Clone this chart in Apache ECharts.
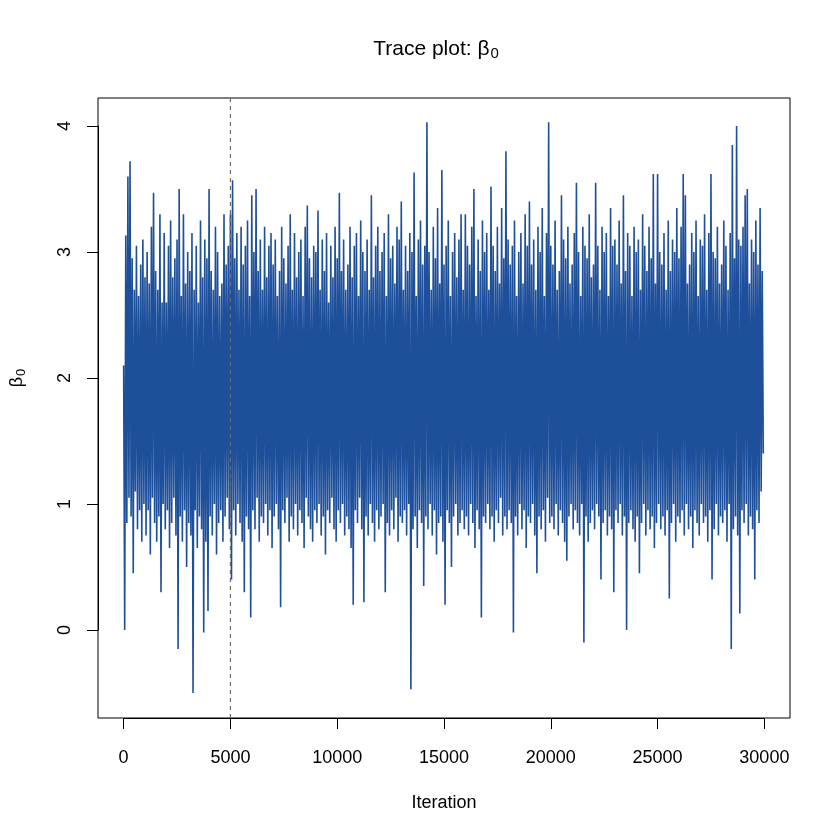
<!DOCTYPE html>
<html>
    <head>
        <meta charset="UTF-8" />
        <script src="https://cdn.jsdelivr.net/npm/echarts@6/dist/echarts.min.js"></script>
        <style>
            html, body { margin: 0; padding: 0; background: #fff; }
        </style>
    </head>
    <body>
        <div id="container" style="width: 840px; height: 840px;"></div>
        <script>
            // trace, one block per 100 iterations:
            // highest and lowest value reached inside each block
            var blockSize = 100;
            var traceHigh = [
                2.10, 3.13, 3.60, 3.72, 2.95, 2.70, 3.05, 2.65, 2.90, 3.10,
                2.80, 3.00, 2.75, 3.20, 3.47, 2.85, 2.70, 3.30, 2.60, 3.15,
                2.60, 3.05, 3.25, 2.80, 2.95, 3.10, 3.50, 2.65, 3.30, 2.75,
                3.00, 2.85, 3.15, 2.70, 3.05, 2.60, 3.25, 2.80, 3.10, 2.95,
                3.50, 2.85, 2.70, 3.20, 3.00, 2.65, 2.75, 3.30, 2.90, 3.05,
                3.30, 3.57, 2.95, 3.15, 2.70, 3.20, 2.90, 3.05, 3.25, 2.65,
                3.45, 3.00, 3.50, 2.85, 3.10, 2.70, 3.20, 2.80, 3.05, 3.15,
                2.90, 3.10, 2.65, 2.85, 3.20, 2.95, 2.75, 3.05, 3.30, 2.70,
                3.15, 2.80, 3.00, 3.10, 2.65, 3.20, 3.37, 2.95, 2.80, 3.05,
                3.00, 3.33, 2.70, 3.10, 2.85, 3.15, 2.60, 3.05, 2.80, 3.20,
                2.95, 3.47, 2.85, 3.10, 2.70, 2.90, 3.20, 2.80, 3.05, 3.15,
                2.65, 3.25, 3.00, 2.85, 3.10, 2.70, 3.45, 2.80, 3.05, 3.20,
                2.85, 3.00, 3.15, 2.65, 3.30, 2.95, 3.05, 2.75, 3.20, 3.10,
                3.40, 2.70, 3.05, 2.85, 3.15, 3.00, 3.63, 2.65, 3.10, 3.25,
                2.90, 3.05, 4.03, 3.00, 2.70, 3.20, 2.95, 3.35, 2.75, 3.65,
                2.90, 3.05, 3.25, 2.65, 3.00, 3.15, 2.80, 3.10, 3.30, 2.70,
                3.30, 3.05, 2.90, 3.20, 3.50, 2.65, 3.10, 2.85, 3.25, 3.00,
                3.15, 2.70, 3.52, 3.05, 2.85, 3.20, 2.75, 3.35, 2.95, 3.80,
                3.10, 2.90, 3.05, 3.25, 2.65, 3.00, 3.15, 2.75, 3.30, 3.05,
                3.40, 2.90, 3.10, 2.70, 3.20, 3.00, 3.35, 2.65, 3.15, 4.03,
                3.05, 2.90, 3.25, 2.70, 2.85, 3.45, 3.10, 2.95, 3.20, 2.75,
                2.90, 3.15, 3.55, 3.00, 2.65, 3.20, 3.05, 2.95, 3.30, 2.80,
                2.90, 3.55, 3.05, 2.70, 3.20, 3.00, 3.15, 2.65, 3.35, 3.05,
                3.10, 2.90, 3.25, 2.75, 3.45, 2.85, 3.15, 3.05, 2.65, 3.20,
                3.00, 3.10, 2.70, 3.30, 3.05, 2.85, 3.20, 2.95, 3.62, 2.75,
                3.62, 3.00, 2.90, 3.15, 2.70, 3.25, 2.85, 3.10, 3.00, 3.35,
                2.95, 3.20, 3.62, 3.45, 2.75, 2.90, 3.15, 3.00, 3.25, 2.65,
                3.10, 3.05, 3.30, 2.70, 3.15, 3.62, 3.00, 2.95, 3.20, 2.75,
                2.90, 3.25, 3.05, 2.70, 3.15, 3.85, 2.95, 4.00, 3.10, 3.05,
                3.20, 3.45, 3.50, 2.75, 3.10, 3.00, 3.25, 2.90, 3.35, 2.85
            ];
            var traceLow = [
                0.00, 0.85, 1.05, 0.90, 0.45, 1.10, 0.80, 0.95, 0.70, 1.00,
                0.75, 0.95, 0.60, 1.05, 0.85, 0.70, 0.90, 0.30, 1.00, 0.80,
                0.95, 0.65, 0.85, 1.05, 0.75, -0.15, 0.90, 0.70, 0.95, 0.50,
                0.85, 0.75, -0.50, 0.95, 0.65, 0.90, 0.80, -0.02, 0.70, 0.15,
                0.90, 0.75, 1.00, 0.60, 0.85, 0.95, 0.70, 0.90, 1.05, 0.80,
                0.40, 0.95, 0.75, 1.00, 0.85, 0.70, 0.30, 0.90, 0.80, 0.10,
                0.95, 0.80, 1.05, 0.70, 0.90, 0.85, 1.00, 0.75, 0.95, 0.65,
                0.90, 1.00, 0.80, 0.18, 0.95, 0.85, 1.05, 0.70, 0.90, 0.80,
                1.00, 0.75, 0.95, 0.85, 0.65, 1.05, 0.90, 0.80, 0.70, 0.95,
                0.85, 1.00, 0.75, 0.90, 0.60, 0.95, 0.85, 1.05, 0.80, 0.70,
                0.95, 0.85, 1.00, 0.75, 0.90, 0.80, 0.65, 0.20, 0.95, 0.85,
                1.05, 0.80, 0.22, 0.90, 0.75, 1.00, 0.85, 0.70, 0.95, 0.80,
                0.90, 1.00, 0.30, 0.85, 0.75, 0.95, 0.80, 1.05, 0.70, 0.90,
                0.85, 0.95, 0.75, 1.00, -0.47, 0.80, 0.90, 0.65, 0.95, 0.85,
                0.35, 0.90, 0.80, 1.00, 0.75, 0.95, 0.60, 0.85, 0.90, 0.70,
                0.20, 0.95, 0.85, 0.50, 0.90, 1.00, 0.75, 0.85, 0.95, 0.80,
                0.90, 0.75, 1.00, 0.85, 0.65, 0.95, 0.80, 0.10, 0.90, 0.85,
                1.00, 0.80, 0.90, 0.70, 0.95, 0.85, 1.05, 0.75, 0.90, 0.80,
                0.95, 0.85, -0.02, 0.90, 0.75, 1.00, 0.80, 0.95, 0.65, 0.90,
                0.85, 1.00, 0.75, 0.45, 0.90, 0.80, 0.95, 0.70, 1.05, 0.85,
                0.90, 0.80, 1.00, 0.75, 0.95, 0.85, 0.70, 0.55, 0.90, 1.00,
                0.80, 0.95, 0.85, 0.75, 1.00, -0.10, 0.90, 0.70, 0.85, 0.95,
                0.80, 1.00, 0.90, 0.40, 0.85, 0.95, 0.75, 0.90, 0.80, 0.30,
                0.95, 0.85, 1.00, 0.75, 0.90, 0.00, 0.85, 0.95, 0.80, 0.70,
                0.90, 0.45, 0.85, 1.00, 0.75, 0.95, 0.80, 0.90, 0.65, 0.85,
                1.00, 0.80, 0.90, 0.75, 0.95, 0.25, 0.85, 1.00, 0.70, 0.90,
                0.85, 0.95, 0.75, 1.00, 0.80, 0.90, 0.65, 0.95, 0.85, 0.75,
                1.00, 0.85, 0.90, 0.70, 0.95, 0.40, 0.80, 1.00, 0.75, 0.90,
                0.85, 0.95, 0.70, 1.00, -0.15, 0.80, 0.90, 0.75, 0.13, 0.95,
                0.85, 1.00, 0.75, 0.90, 0.80, 0.40, 0.95, 0.85, 1.10, 1.40
            ];
            var burnIn = 5000;
            var xTicks = [0, 30000, 5000];   // min, max, step
            var yTicks = [0, 4, 1];

            var lineColor = '#1d4f9b';
            var font = 'Liberation Sans';

            // zigzag through each block: its high then its low
            var trace = [];
            for (var i = 0; i < traceHigh.length; i++) {
                trace.push([i * blockSize, traceHigh[i]]);
                trace.push([i * blockSize + blockSize / 2, traceLow[i]]);
            }

            // plot box (R style, 4% padding round the data range)
            var box = { left: 98, right: 790, top: 98, bottom: 718 };
            var xPad = (xTicks[1] - xTicks[0]) * 0.04;
            var pxPerX = (box.right - box.left) / (xTicks[1] - xTicks[0] + 2 * xPad);
            var pxPerY = 126;
            var y0px = 630;
            var yMaxOuter = yTicks[1] + (y0px - yTicks[1] * pxPerY - box.top) / pxPerY;
            var yMinOuter = -(box.bottom - y0px) / pxPerY;

            var innerLeft = box.left + xPad * pxPerX;
            var innerRight = 840 - (box.right - xPad * pxPerX);
            var innerTop = y0px - yTicks[1] * pxPerY;

            function plain(v) { return String(v); }

            var option = {
                animation: false,
                backgroundColor: '#fff',
                title: {
                    text: 'Trace plot: {g|β}{s|0}',
                    left: 431,
                    top: 32,
                    textAlign: 'center',
                    textStyle: {
                        fontFamily: font, fontSize: 21, fontWeight: 'normal', color: '#000',
                        rich: {
                            g: { fontFamily: font, fontSize: 21, color: '#000' },
                            s: { fontFamily: font, fontSize: 15, color: '#000', padding: [9, 0, 0, 1] }
                        }
                    }
                },
                grid: [
                    { left: box.left, right: 840 - box.right, top: box.top, bottom: 840 - box.bottom,
                      show: true, borderColor: '#000', borderWidth: 1, backgroundColor: 'transparent' },
                    { left: innerLeft, right: innerRight, top: innerTop, bottom: 840 - y0px }
                ],
                xAxis: [
                    { gridIndex: 0, type: 'value', min: xTicks[0] - xPad, max: xTicks[1] + xPad, show: false },
                    {
                        gridIndex: 1, type: 'value', min: xTicks[0], max: xTicks[1], interval: xTicks[2],
                        position: 'bottom', offset: box.bottom - y0px,
                        axisLine: { show: true, onZero: false, lineStyle: { color: '#000', width: 1 } },
                        axisTick: { show: true, length: 11, lineStyle: { color: '#000', width: 1 } },
                        axisLabel: { fontFamily: font, fontSize: 18, color: '#000', margin: 31, formatter: plain },
                        splitLine: { show: false },
                        name: 'Iteration', nameLocation: 'middle', nameGap: 76,
                        nameTextStyle: { fontFamily: font, fontSize: 18, color: '#000' }
                    }
                ],
                yAxis: [
                    { gridIndex: 0, type: 'value', min: yMinOuter, max: yMaxOuter, show: false },
                    {
                        gridIndex: 1, type: 'value', min: yTicks[0], max: yTicks[1], interval: yTicks[2],
                        position: 'left', offset: innerLeft - box.left,
                        axisLine: { show: true, onZero: false, lineStyle: { color: '#000', width: 1 } },
                        axisTick: { show: true, length: 11, lineStyle: { color: '#000', width: 1 } },
                        axisLabel: { fontFamily: font, fontSize: 18, color: '#000', margin: 24, rotate: 90, formatter: plain },
                        splitLine: { show: false },
                        name: '{g|β}{s|0}', nameLocation: 'middle', nameGap: 70, nameRotate: 90,
                        nameTextStyle: {
                            fontFamily: font, fontSize: 18, color: '#000',
                            rich: {
                                g: { fontFamily: font, fontSize: 18, color: '#000' },
                                s: { fontFamily: font, fontSize: 13, color: '#000', padding: [8, 0, 0, 1] }
                            }
                        }
                    }
                ],
                series: [
                    {
                        type: 'line',
                        xAxisIndex: 0,
                        yAxisIndex: 0,
                        data: trace,
                        symbol: 'none',
                        showSymbol: false,
                        z: 2,
                        lineStyle: { color: lineColor, width: 1.6 }
                    },
                    {
                        // burn-in cut, drawn over the trace from box top to box bottom
                        type: 'line',
                        xAxisIndex: 0,
                        yAxisIndex: 0,
                        data: [[burnIn, yMinOuter], [burnIn, yMaxOuter]],
                        symbol: 'none',
                        showSymbol: false,
                        z: 5,
                        lineStyle: { color: '#6a6a6a', width: 1.2, type: [4, 4] }
                    }
                ]
            };

            var chart = echarts.init(document.getElementById('container'));
            chart.setOption(option);
        </script>
    </body>
</html>
